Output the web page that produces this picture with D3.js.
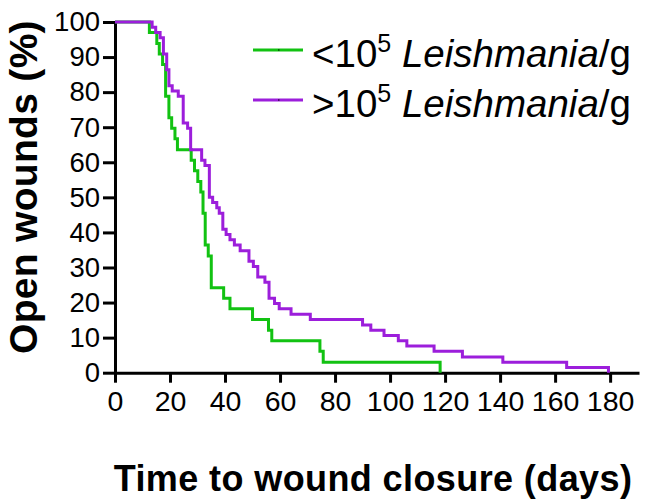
<!DOCTYPE html>
<html>
<head>
<meta charset="utf-8">
<script src="https://cdn.jsdelivr.net/npm/d3@7"></script>
<style>
  body { margin: 0; background: #fff; }
  svg { display: block; font-family: "Liberation Sans", Arial, sans-serif; }
</style>
</head>
<body>
<div class="chart"></div>
<script>
// Kaplan-Meier steps (day of event, % still open after it)
var lowDays = [0, 12.5, 15.2, 16.1, 17.3, 18.4, 19.6, 20.6, 21.8, 22.7, 27.7, 28.9, 30.1,
    31.2, 32.0, 32.8, 33.9, 35.0, 39.5, 41.8, 50.0, 55.8, 57.0, 74.5, 75.7, 118.2];
var lowPct = [100, 97.0, 93.9, 90.9, 87.9, 78.8, 72.7, 69.7, 66.7, 63.6, 60.6, 57.6, 54.5,
    51.5, 45.5, 36.4, 33.3, 24.2, 21.2, 18.2, 15.2, 12.1, 9.1, 6.1, 3.0, 0];

var highDays = [0, 13.5, 14.8, 16.4, 17.6, 18.8, 19.6, 20.8, 23.0, 24.8, 26.4, 27.5, 31.5,
    32.7, 34.3, 35.5, 37.0, 37.9, 39.2, 40.4, 41.8, 43.4, 45.5, 48.7, 50.3, 51.9, 54.5,
    56.0, 58.0, 59.7, 64.0, 71.0, 90.0, 93.0, 97.8, 103.0, 106.1, 116.0, 126.3, 141.0,
    164.2, 179.4];
var highPct = [100, 98.5, 97.0, 95.5, 90.9, 86.4, 81.8, 80.3, 78.8, 71.2, 69.7, 63.6, 60.6,
    59.1, 50.0, 48.5, 47.0, 45.5, 40.9, 39.4, 37.9, 36.4, 34.8, 31.8, 30.3, 27.3, 25.8,
    21.2, 19.7, 18.2, 16.7, 15.2, 13.6, 12.1, 10.6, 9.1, 7.6, 6.1, 4.5, 3.0,
    1.5, 0];

var xTicks = [0, 20, 40, 60, 80, 100, 120, 140, 160, 180];
var yTicks = [0, 10, 20, 30, 40, 50, 60, 70, 80, 90, 100];

var seriesNames = ["<10", ">10"];
var seriesColors = ["#12c212", "#9c1edb"];

// Configuration
var width = 647;
var height = 504;

var svg = d3.select(".chart").append("svg")
    .attr("width", width)
    .attr("height", height);

var x = d3.scaleLinear().domain([0, 190.5]).range([115, 639]);
var y = d3.scaleLinear().domain([0, 100]).range([372.7, 22]);

// Axes
var xAxis = svg.append("g")
    .attr("transform", "translate(0," + y(0) + ")")
    .call(d3.axisBottom(x).tickValues(xTicks).tickSizeInner(10).tickSizeOuter(0).tickPadding(8));

var yAxis = svg.append("g")
    .attr("transform", "translate(" + x(0) + ",0)")
    .call(d3.axisLeft(y).tickValues(yTicks).tickSizeInner(12).tickSizeOuter(0).tickPadding(3));

[xAxis, yAxis].forEach(function(g) {
    g.selectAll("path, line").attr("stroke", "#000").attr("stroke-width", 3);
    g.selectAll("text")
        .attr("fill", "#000")
        .style("font-family", "'Liberation Sans', Arial, sans-serif")
        .style("font-size", "27.5px");
});
xAxis.selectAll("text").style("font-size", "28.5px");

// Curves
var line = d3.line()
    .curve(d3.curveStepAfter)
    .x(function(d) { return x(d[0]); })
    .y(function(d) { return y(d[1]); });

var curves = [d3.zip(lowDays, lowPct), d3.zip(highDays, highPct)];

svg.selectAll("path.km")
    .data(curves)
    .enter().append("path")
    .attr("class", "km")
    .attr("fill", "none")
    .attr("stroke", function(d, i) { return seriesColors[i]; })
    .attr("stroke-width", 3)
    .attr("d", line);

// Axis titles
svg.append("text")
    .attr("transform", "translate(37,187) rotate(-90)")
    .attr("text-anchor", "middle")
    .style("font-weight", "bold")
    .style("font-size", "39px")
    .style("letter-spacing", "0.3px")
    .text("Open wounds (%)");

svg.append("text")
    .attr("x", 373)
    .attr("y", 491)
    .attr("text-anchor", "middle")
    .style("font-weight", "bold")
    .style("font-size", "36px")
    .style("letter-spacing", "0.4px")
    .text("Time to wound closure (days)");

// Legend
var legend = svg.selectAll("g.legend")
    .data(seriesNames)
    .enter().append("g")
    .attr("class", "legend")
    .attr("transform", function(d, i) { return "translate(0," + (50 + i * 50) + ")"; });

legend.append("line")
    .attr("x1", 253).attr("x2", 303)
    .attr("stroke", function(d, i) { return seriesColors[i]; })
    .attr("stroke-width", 3);

legend.append("rect")
    .attr("x", 278).attr("y", -0.5)
    .attr("width", 1.5).attr("height", 1)
    .attr("fill", "#000");

var label = legend.append("text")
    .attr("x", 312)
    .attr("y", 17)
    .style("font-size", "38.5px");

label.append("tspan").text(function(d) { return d; });
label.append("tspan").attr("dy", -15).style("font-size", "25px").text("5");
label.append("tspan").attr("dy", 15).text(" ");
label.append("tspan").style("font-style", "italic").text("Leishmania");
label.append("tspan").text("/g");
</script>
</body>
</html>
